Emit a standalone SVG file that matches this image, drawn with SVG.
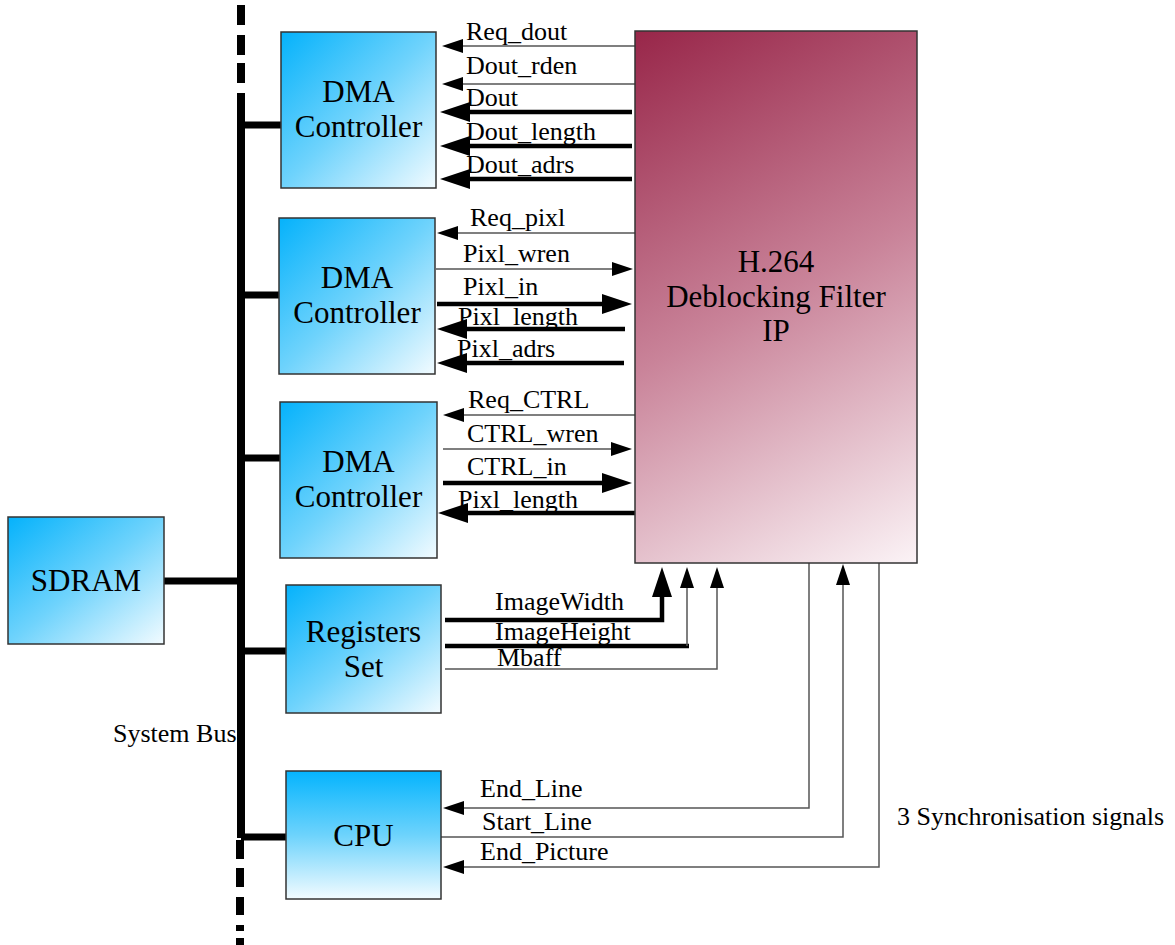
<svg xmlns="http://www.w3.org/2000/svg" width="1175" height="945" viewBox="0 0 1175 945">
<defs>
<linearGradient id="gBlue" x1="0" y1="0" x2="1" y2="1">
<stop offset="0" stop-color="#05b2fb"/>
<stop offset="0.5" stop-color="#6fd3fc"/>
<stop offset="1" stop-color="#f2fbff"/>
</linearGradient>
<linearGradient id="gBlueV" x1="0" y1="0" x2="0" y2="1">
<stop offset="0" stop-color="#05b4fd"/>
<stop offset="0.5" stop-color="#6dd3fc"/>
<stop offset="1" stop-color="#f2fbff"/>
</linearGradient>
<linearGradient id="gMag" gradientUnits="userSpaceOnUse" x1="635" y1="31" x2="917" y2="563">
<stop offset="0" stop-color="#982649"/>
<stop offset="0.5" stop-color="#c98399"/>
<stop offset="1" stop-color="#fbf3f6"/>
</linearGradient>
<marker id="aThin" markerUnits="userSpaceOnUse" markerWidth="22" markerHeight="14" refX="1" refY="7" orient="auto">
<path d="M0,0 L21,7 L0,14 z" fill="#000"/>
</marker>
<marker id="aThick" markerUnits="userSpaceOnUse" markerWidth="31" markerHeight="20" refX="1" refY="10" orient="auto">
<path d="M0,0 L30,10 L0,20 z" fill="#000"/>
</marker>
</defs>
<style>
.box{stroke:#333;stroke-width:1.5}
.big{font-family:"Liberation Serif","Times New Roman",serif;font-size:31px;fill:#000;text-anchor:middle}
.lbl{font-family:"Liberation Serif","Times New Roman",serif;font-size:26px;fill:#000}
.thin{fill:none;stroke:#555;stroke-width:1.5}
.thick{fill:none;stroke:#000;stroke-width:4.5}
.bus{fill:none;stroke:#000;stroke-width:8}
.stub{fill:none;stroke:#000;stroke-width:7}
</style>

<g id="bus">
<line class="bus" x1="241" y1="5" x2="241" y2="25"/>
<line class="bus" x1="241" y1="35" x2="241" y2="55"/>
<line class="bus" x1="241" y1="63" x2="241" y2="83"/>
<line class="bus" x1="241" y1="93" x2="241" y2="838"/>
<line class="bus" x1="240" y1="840" x2="240" y2="859"/>
<line class="bus" x1="240" y1="868" x2="240" y2="887"/>
<line class="bus" x1="240" y1="897" x2="240" y2="915"/>
<line class="bus" x1="240" y1="925" x2="240" y2="931"/>
<line class="bus" x1="240" y1="938" x2="240" y2="945"/>
<text class="lbl" x="113" y="742">System Bus</text>
</g>

<g id="connectors">
<line class="stub" x1="241" y1="125" x2="281" y2="125"/>
<line class="stub" x1="241" y1="295" x2="279" y2="295"/>
<line class="stub" x1="241" y1="458" x2="280" y2="458"/>
<line class="stub" x1="164" y1="581" x2="241" y2="581"/>
<line class="stub" x1="241" y1="651" x2="286" y2="651"/>
<line class="stub" x1="241" y1="837" x2="286" y2="837"/>

<line class="thin" x1="635" y1="46" x2="462" y2="46" marker-end="url(#aThin)"/>
<line class="thin" x1="635" y1="84" x2="462" y2="84" stroke="#888" stroke-width="2" marker-end="url(#aThin)"/>
<line class="thick" x1="632" y1="112" x2="469" y2="112" marker-end="url(#aThick)"/>
<line class="thick" x1="632" y1="146" x2="469" y2="146" marker-end="url(#aThick)"/>
<line class="thick" x1="632" y1="179" x2="469" y2="179" marker-end="url(#aThick)"/>

<line class="thin" x1="635" y1="233" x2="457" y2="233" marker-end="url(#aThin)"/>
<line class="thin" x1="436" y1="269" x2="613" y2="269" marker-end="url(#aThin)"/>
<line class="thick" x1="437" y1="304" x2="603" y2="304" marker-end="url(#aThick)"/>
<line class="thick" x1="625" y1="329" x2="466" y2="329" marker-end="url(#aThick)"/>
<line class="thick" x1="624" y1="363" x2="466" y2="363" marker-end="url(#aThick)"/>

<line class="thin" x1="635" y1="415" x2="463" y2="415" marker-end="url(#aThin)"/>
<line class="thin" x1="443" y1="449" x2="612" y2="449" marker-end="url(#aThin)"/>
<line class="thick" x1="443" y1="483" x2="603" y2="483" marker-end="url(#aThick)"/>
<line class="thick" x1="635" y1="513" x2="467" y2="513" marker-end="url(#aThick)"/>

<path class="thick" d="M445,620 H662 V596" marker-end="url(#aThick)"/>
<line class="thick" x1="445" y1="646" x2="689" y2="646"/>
<line class="thin" x1="687" y1="646" x2="687" y2="587" marker-end="url(#aThin)"/>
<path class="thin" d="M445,669 H717 V587" marker-end="url(#aThin)"/>

<path class="thin" d="M809,563 V808 H463" marker-end="url(#aThin)"/>
<path class="thin" d="M441,837 H843 V584" marker-end="url(#aThin)"/>
<path class="thin" d="M879,563 V867 H463" marker-end="url(#aThin)"/>

<text class="lbl" x="466" y="40">Req_dout</text>
<text class="lbl" x="466" y="74">Dout_rden</text>
<text class="lbl" x="466" y="106">Dout</text>
<text class="lbl" x="466" y="140">Dout_length</text>
<text class="lbl" x="466" y="173">Dout_adrs</text>

<text class="lbl" x="470" y="226">Req_pixl</text>
<text class="lbl" x="463" y="262">Pixl_wren</text>
<text class="lbl" x="463" y="295">Pixl_in</text>
<text class="lbl" x="458" y="325">Pixl_length</text>
<text class="lbl" x="457" y="357">Pixl_adrs</text>

<text class="lbl" x="468" y="408">Req_CTRL</text>
<text class="lbl" x="467" y="442">CTRL_wren</text>
<text class="lbl" x="467" y="475">CTRL_in</text>
<text class="lbl" x="458" y="508">Pixl_length</text>

<text class="lbl" x="495" y="610">ImageWidth</text>
<text class="lbl" x="495" y="640">ImageHeight</text>
<text class="lbl" x="497" y="666">Mbaff</text>

<text class="lbl" x="480" y="797">End_Line</text>
<text class="lbl" x="482" y="830">Start_Line</text>
<text class="lbl" x="480" y="860">End_Picture</text>
<text class="lbl" x="897" y="825">3 Synchronisation signals</text>
</g>

<g id="dma1">
<rect class="box" x="281" y="32" width="155" height="156" fill="url(#gBlue)"/>
<text class="big" x="358.5" y="102">DMA</text>
<text class="big" x="358.5" y="137">Controller</text>
</g>
<g id="dma2">
<rect class="box" x="279" y="218" width="156" height="156" fill="url(#gBlue)"/>
<text class="big" x="357" y="288">DMA</text>
<text class="big" x="357" y="323">Controller</text>
</g>
<g id="dma3">
<rect class="box" x="280" y="402" width="157" height="156" fill="url(#gBlue)"/>
<text class="big" x="358.5" y="472">DMA</text>
<text class="big" x="358.5" y="507">Controller</text>
</g>
<g id="sdram">
<rect class="box" x="8" y="517" width="156" height="127" fill="url(#gBlue)"/>
<text class="big" x="86" y="591">SDRAM</text>
</g>
<g id="registers">
<rect class="box" x="286" y="585" width="155" height="128" fill="url(#gBlue)"/>
<text class="big" x="363.5" y="642">Registers</text>
<text class="big" x="363.5" y="677">Set</text>
</g>
<g id="cpu">
<rect class="box" x="286" y="771" width="155" height="128" fill="url(#gBlueV)"/>
<text class="big" x="363.5" y="846">CPU</text>
</g>
<g id="filter">
<rect class="box" x="635" y="31" width="282" height="532" fill="url(#gMag)"/>
<text class="big" x="776" y="272">H.264</text>
<text class="big" x="776" y="307">Deblocking Filter</text>
<text class="big" x="776" y="341">IP</text>
</g>
</svg>
